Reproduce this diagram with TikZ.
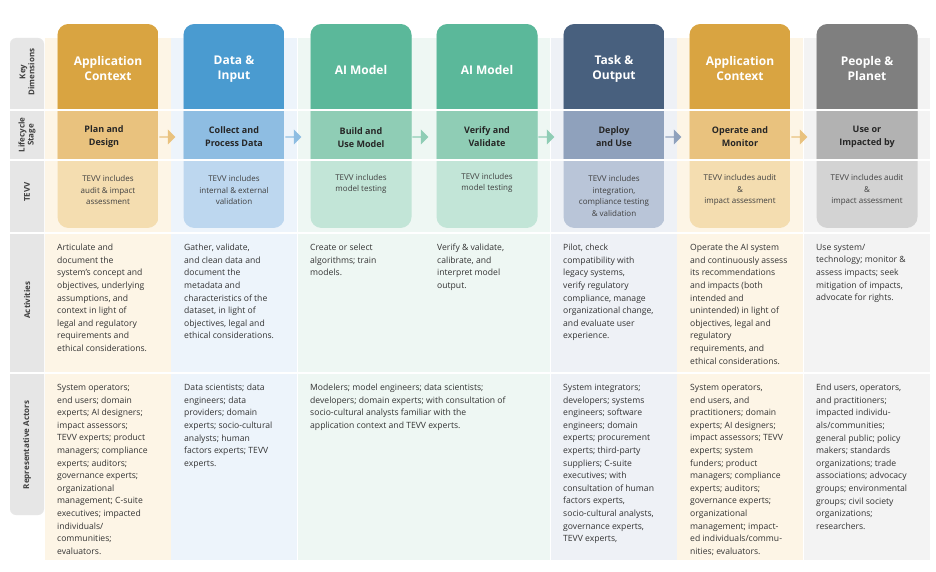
\documentclass[tikz,border=0pt]{standalone}
\usepackage{fontspec}
\setmainfont{Open Sans}
\usetikzlibrary{shapes.arrows}
\definecolor{c1}{HTML}{D9A441}\definecolor{l1}{HTML}{E9C27E}\definecolor{t1}{HTML}{F4DDB0}\definecolor{b1}{HTML}{FDF5E6}
\definecolor{c2}{HTML}{4A9BD0}\definecolor{l2}{HTML}{8EBDE2}\definecolor{t2}{HTML}{BDD7EF}\definecolor{b2}{HTML}{EDF4FB}
\definecolor{c3}{HTML}{5BB89A}\definecolor{l3}{HTML}{8FCDB5}\definecolor{t3}{HTML}{C2E5D7}\definecolor{b3}{HTML}{EEF7F3}
\definecolor{c5}{HTML}{48607E}\definecolor{l5}{HTML}{8FA1BC}\definecolor{t5}{HTML}{B9C5D8}\definecolor{b5}{HTML}{EEF1F6}
\definecolor{c7}{HTML}{7F7F7F}\definecolor{l7}{HTML}{B2B2B2}\definecolor{t7}{HTML}{D3D3D3}\definecolor{b7}{HTML}{F3F3F3}
\definecolor{lab}{HTML}{E6E6E6}
\tikzset{
  title/.style={font=\fontsize{12}{15}\selectfont\bfseries, text=white, align=center},
  stage/.style={font=\fontsize{9}{13}\selectfont\bfseries, text=black!85, align=center},
  tevv/.style={font=\fontsize{8}{11.5}\selectfont, text=black!75, align=center},
  body/.style={font=\fontsize{8.6}{12.6}\selectfont, text=black!80, align=left, anchor=north west, inner sep=0pt},
  side/.style={font=\fontsize{8}{9}\selectfont\bfseries, text=black!75, align=center, rotate=90},
  flow/.style={single arrow, minimum height=16pt, minimum width=15pt, single arrow head extend=2pt, inner sep=0pt, draw=none}
}
\begin{document}
\begin{tikzpicture}[x=1pt,y=-1pt]
\useasboundingbox (0,0) rectangle (936,572);
\fill[white] (0,0) rectangle (936,572);
% left labels band
\fill[lab, rounded corners=6pt] (10,38) rectangle (44,515);
% stripes
\foreach \cx/\b in {108/b1,234/b2,361/b3,487/b3,614/b5,740/b1,867/b7}{
  \fill[\b] (\cx-63,38) rectangle (\cx+63,560);
}
% column boxes
\foreach \i/\cx/\c/\l/\t in {1/108/c1/l1/t1,2/234/c2/l2/t2,3/361/c3/l3/t3,4/487/c3/l3/t3,5/614/c5/l5/t5,6/740/c1/l1/t1,7/867/c7/l7/t7}{
  \begin{scope}
    \clip[rounded corners=11pt] (\cx-50.5,24) rectangle (\cx+50.5,228);
    \fill[\t] (\cx-51,24) rectangle (\cx+51,228);
    \fill[\c] (\cx-51,24) rectangle (\cx+51,110);
    \fill[\l] (\cx-51,110) rectangle (\cx+51,160);
  \end{scope}
}
% row separators
\foreach \y in {110,160,233,373}{ \draw[white, line width=1.5pt] (10,\y) -- (936,\y); }
% side labels
\node[side] (s1) at (27,72) {Key\\Dimensions};
\node[side] (s2) at (27,135) {Lifecycle\\Stage};
\node[side] (s3) at (27,192) {TEVV};
\node[side] (s4) at (27,300) {Activities};
\node[side] (s5) at (27,445) {Representative Actors};
% titles
\node[title] (h1) at (108,69) {Application\\Context};
\node[title] (h2) at (234,69) {Data \&\\Input};
\node[title] (h3) at (361,70) {AI Model};
\node[title] (h4) at (487,70) {AI Model};
\node[title] (h5) at (614,69) {Task \&\\Output};
\node[title] (h6) at (740,69) {Application\\Context};
\node[title] (h7) at (867,69) {People \&\\Planet};
% stages
\node[stage] (g1) at (104,137) {Plan and\\Design};
\node[stage] (g2) at (234,137) {Collect and\\Process Data};
\node[stage] (g3) at (361,138) {Build and\\Use Model};
\node[stage] (g4) at (487,137) {Verify and\\Validate};
\node[stage] (g5) at (614,137) {Deploy\\and Use};
\node[stage] (g6) at (740,137) {Operate and\\Monitor};
\node[stage] (g7) at (867,137) {Use or\\Impacted by};
% arrows
\node[flow, fill=l1] (a1) at (167,137) {};
\node[flow, fill=l2] (a2) at (293,137) {};
\node[flow, fill=l3] (a3) at (420,137) {};
\node[flow, fill=l3] (a4) at (546,137) {};
\node[flow, fill=l5] (a5) at (673,137) {};
\node[flow, fill=l1] (a6) at (799,137) {};
% TEVV
\node[tevv] (v1) at (108,190) {TEVV includes\\audit \& impact\\assessment};
\node[tevv] (v2) at (234,190) {TEVV includes\\internal \& external\\validation};
\node[tevv] (v3) at (361,184) {TEVV includes\\model testing};
\node[tevv] (v4) at (487,183) {TEVV includes\\model testing};
\node[tevv] (v5) at (614,196) {TEVV includes\\integration,\\compliance testing\\\& validation};
\node[tevv] (v6) at (740,190) {TEVV includes audit\\\&\\impact assessment};
\node[tevv] (v7) at (867,190) {TEVV includes audit\\\&\\impact assessment};
% activities
\node[body] (ac1) at (57,244) {Articulate and\\document the\\system's concept and\\objectives, underlying\\assumptions, and\\context in light of\\legal and regulatory\\requirements and\\ethical considerations.};
\node[body] (ac2) at (184,244) {Gather, validate,\\and clean data and\\document the\\metadata and\\characteristics of the\\dataset, in light of\\objectives, legal and\\ethical considerations.};
\node[body] (ac3) at (310,244) {Create or select\\algorithms; train\\models.};
\node[body] (ac4) at (437,244) {Verify \& validate,\\calibrate, and\\interpret model\\output.};
\node[body] (ac5) at (563,244) {Pilot, check\\compatibility with\\legacy systems,\\verify regulatory\\compliance, manage\\organizational change,\\and evaluate user\\experience.};
\node[body] (ac6) at (690,244) {Operate the AI system\\and continuously assess\\its recommendations\\and impacts (both\\intended and\\unintended) in light of\\objectives, legal and\\regulatory\\requirements, and\\ethical considerations.};
\node[body] (ac7) at (816,244) {Use system/\\technology; monitor \&\\assess impacts; seek\\mitigation of impacts,\\advocate for rights.};
% actors
\node[body] (r1) at (57,384) {System operators;\\end users; domain\\experts; AI designers;\\impact assessors;\\TEVV experts; product\\managers; compliance\\experts; auditors;\\governance experts;\\organizational\\management; C-suite\\executives; impacted\\individuals/\\communities;\\evaluators.};
\node[body] (r2) at (184,384) {Data scientists; data\\engineers; data\\providers; domain\\experts; socio-cultural\\analysts; human\\factors experts; TEVV\\experts.};
\node[body] (r3) at (310,384) {Modelers; model engineers; data scientists;\\developers; domain experts; with consultation of\\socio-cultural analysts familiar with the\\application context and TEVV experts.};
\node[body] (r5) at (563,384) {System integrators;\\developers; systems\\engineers; software\\engineers; domain\\experts; procurement\\experts; third-party\\suppliers; C-suite\\executives; with\\consultation of human\\factors experts,\\socio-cultural analysts,\\governance experts,\\TEVV experts,};
\node[body] (r6) at (690,384) {System operators,\\end users, and\\practitioners; domain\\experts; AI designers;\\impact assessors; TEVV\\experts; system\\funders; product\\managers; compliance\\experts; auditors;\\governance experts;\\organizational\\management; impact-\\ed individuals/commu-\\nities; evaluators.};
\node[body] (r7) at (816,384) {End users, operators,\\and practitioners;\\impacted individu-\\als/communities;\\general public; policy\\makers; standards\\organizations; trade\\associations; advocacy\\groups; environmental\\groups; civil society\\organizations;\\researchers.};
\end{tikzpicture}
\end{document}
